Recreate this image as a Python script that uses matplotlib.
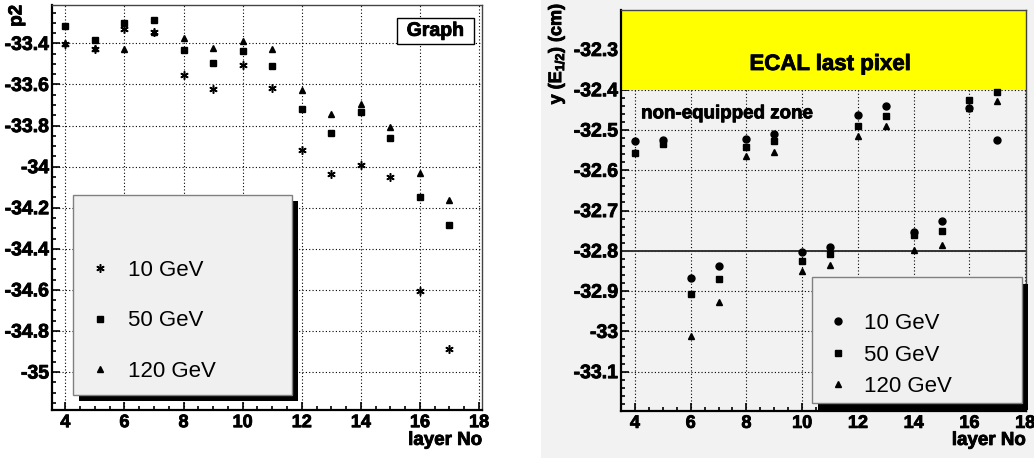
import numpy as np
import matplotlib
matplotlib.use("Agg")
import matplotlib.pyplot as plt
from matplotlib.patches import Rectangle
from matplotlib.ticker import MultipleLocator, FuncFormatter
import matplotlib.transforms as mtransforms
import matplotlib.patheffects as pe

plt.rcParams["font.family"] = ["Liberation Sans", "DejaVu Sans"]
plt.rcParams["font.weight"] = "bold"
plt.rcParams["mathtext.fontset"] = "custom"
plt.rcParams["mathtext.rm"] = "Liberation Sans:bold"
plt.rcParams["mathtext.bf"] = "Liberation Sans:bold"

# data
layers = [4, 5, 6, 7, 8, 9, 10, 11, 12, 13, 14, 15, 16, 17]
energies = ["10 GeV", "50 GeV", "120 GeV"]

# left panel: p2 vs layer
p2_10 = [-33.405, -33.426, -33.332, -33.344, -33.553, -33.621, -33.504,
         -33.615, -33.920, -34.038, -33.994, -34.051, -34.607, -34.890]
p2_50 = [-33.314, -33.384, -33.300, -33.285, -33.434, -33.496, -33.438,
         -33.512, -33.717, -33.838, -33.732, -33.860, -34.150, -34.283]
p2_120 = [-33.400, -33.420, -33.426, -33.344, -33.376, -33.420, -33.389,
          -33.426, -33.626, -33.743, -33.695, -33.808, -34.031, -34.164]

# right panel: y(E1/2) vs layer
yE_10 = [-32.527, -32.524, -32.867, -32.838, -32.522, -32.510, -32.802,
         -32.790, -32.463, -32.441, -32.753, -32.726, -32.446, -32.526]
yE_50 = [-32.557, -32.534, -32.908, -32.870, -32.542, -32.528, -32.825,
         -32.808, -32.490, -32.465, -32.760, -32.752, -32.426, -32.405]
yE_120 = [-32.555, -32.530, -33.012, -32.927, -32.564, -32.554, -32.851,
          -32.834, -32.516, -32.490, -32.799, -32.786, -32.445, -32.427]

ecal_edge = -32.4
boundary = -32.8

W, H = 1034, 458
fig = plt.figure(figsize=(W / 100, H / 100), dpi=100, facecolor="white")
# grey canvas of the right-hand pad
fig.patches.append(Rectangle((541 / W, 0), 1 - 541 / W, 1, transform=fig.transFigure,
                             facecolor="#f2f2f2", edgecolor="none", zorder=-10))

# ROOT's bitmap text is heavier than a plain bold face
heavy = [pe.withStroke(linewidth=0.6, foreground="black")]


def px_axes(x0, y0, x1, y1):
    # pixel box (top-left origin) -> figure fraction axes
    return fig.add_axes([x0 / W, 1 - y1 / H, (x1 - x0) / W, (y1 - y0) / H])


def root_style(ax, xminor, ymajor, yminor):
    ax.set_axisbelow(True)
    ax.xaxis.set_major_locator(MultipleLocator(2))
    ax.xaxis.set_minor_locator(MultipleLocator(xminor))
    ax.yaxis.set_major_locator(MultipleLocator(ymajor))
    ax.yaxis.set_minor_locator(MultipleLocator(yminor))
    ax.yaxis.set_major_formatter(FuncFormatter(lambda v, p: "%g" % round(v, 3)))
    ax.xaxis.set_major_formatter(FuncFormatter(lambda v, p: "%g" % round(v, 3)))
    ax.tick_params(which="both", direction="in", top=False, right=False, width=1.2)
    ax.tick_params(which="major", length=6)
    ax.tick_params(axis="x", which="major", labelsize=13, pad=3)
    ax.tick_params(axis="y", which="major", labelsize=14, pad=2)
    ax.tick_params(which="minor", length=3.2)
    ax.grid(True, which="major", color="black", lw=0.8, ls=(0, (1, 2)))
    ax.spines["left"].set_linewidth(1.6)
    ax.spines["bottom"].set_linewidth(1.6)
    for s in ("top", "right"):
        ax.spines[s].set_linewidth(1.0)
        ax.spines[s].set_color("#444444")


def legend_box(ax, x0, y0, x1, y1, dx, dy):
    shadow_tr = mtransforms.offset_copy(ax.transAxes, fig=fig, x=dx, y=-dy, units="dots")
    ax.add_patch(Rectangle((x0, y0), x1 - x0, y1 - y0, transform=shadow_tr,
                           facecolor="black", edgecolor="none", zorder=4, clip_on=False))
    ax.add_patch(Rectangle((x0, y0), x1 - x0, y1 - y0, transform=ax.transAxes,
                           facecolor="#f0f0f0", edgecolor="#808080", lw=1.0,
                           zorder=4.5, clip_on=False))


legend_font = {"size": 16, "weight": "normal"}

# ---------------- left panel ----------------
ax1 = px_axes(52, 5, 482, 410)
ax1.set_facecolor("white")
ax1.set_xlim(3.55, 18.1)
ax1.set_ylim(-35.185, -33.213)
root_style(ax1, 0.5, 0.2, 0.05)

l1, = ax1.plot(layers, p2_10, ls="none", marker=(6, 2, 0), ms=6, mew=1.1, color="black")
l2, = ax1.plot(layers, p2_50, ls="none", marker="s", ms=5, color="black")
l3, = ax1.plot(layers, p2_120, ls="none", marker="^", ms=5, color="black")

ax1.set_xlabel("layer No", fontsize=13.5, fontweight="bold", loc="right")
ax1.xaxis.set_label_coords(1.0, -0.054)
ax1.set_ylabel("p2", fontsize=13.5, fontweight="bold", loc="top")
ax1.yaxis.set_label_coords(-0.062, 1.0)

# "Graph" title box
ax1.add_patch(Rectangle((0.8016, 0.903), 0.1805, 0.0642, transform=ax1.transAxes,
                        facecolor="white", edgecolor="black", lw=1.0, zorder=4))
ax1.text(0.8918, 0.935, "Graph", transform=ax1.transAxes, ha="center", va="center",
         fontsize=14, fontweight="bold", zorder=5, path_effects=heavy)

legend_box(ax1, 0.0496, 0.037, 0.5574, 0.5309, 6, 6)
ax1.legend([l1, l2, l3], energies, loc="center left", bbox_to_anchor=(0.086, 0.22),
           frameon=False, prop=legend_font, handlelength=1.0, handletextpad=0.77,
           labelspacing=1.33, borderpad=0, borderaxespad=0).set_zorder(6)

# ---------------- right panel ----------------
ax2 = px_axes(621, 10, 1025.7, 410.7)
ax2.set_facecolor("#f2f2f2")
ax2.set_xlim(3.5, 18.02)
ax2.set_ylim(-33.197, -32.202)
root_style(ax2, 0.5, 0.1, 0.02)

ax2.axhspan(ecal_edge, -32.19, facecolor="#ffff00", edgecolor="none", zorder=1)
ax2.axhline(boundary, color="#333333", lw=1.4, zorder=1.5)
ax2.text(11, -32.351, "ECAL last pixel", ha="center", va="baseline",
         fontsize=16, fontweight="bold", zorder=3, path_effects=heavy)
ax2.text(4.22, -32.471, "non-equipped zone", ha="left", va="baseline",
         fontsize=13.5, fontweight="bold", zorder=3, path_effects=heavy)

r1, = ax2.plot(layers, yE_10, ls="none", marker="o", ms=5, color="black", zorder=3)
r2, = ax2.plot(layers, yE_50, ls="none", marker="s", ms=5, color="black", zorder=3)
r3, = ax2.plot(layers, yE_120, ls="none", marker="^", ms=5, color="black", zorder=3)

ax2.set_xlabel("layer No", fontsize=13.5, fontweight="bold", loc="right")
ax2.xaxis.set_label_coords(1.0, -0.053)
ax2.set_ylabel(r"y (E$_{1/2}$) (cm)", fontsize=13, fontweight="bold", loc="top")
ax2.yaxis.set_label_coords(-0.133, 1.017)

legend_box(ax2, 0.4712, 0.0185, 0.9916, 0.3344, 6, 7)
ax2.legend([r1, r2, r3], energies, loc="center left", bbox_to_anchor=(0.5095, 0.139),
           frameon=False, prop=legend_font, handlelength=1.0, handletextpad=0.66,
           labelspacing=0.48, borderpad=0, borderaxespad=0).set_zorder(6)

# make sure every tick label and axis title is bold and heavy (ROOT style)
fig.canvas.draw()
for ax in (ax1, ax2):
    for lab in ax.get_xticklabels() + ax.get_yticklabels():
        lab.set_fontweight("bold")
        lab.set_path_effects(heavy)
    ax.xaxis.label.set_path_effects(heavy)
    ax.yaxis.label.set_path_effects(heavy)

fig.savefig("out.png", dpi=100, facecolor=fig.get_facecolor())
